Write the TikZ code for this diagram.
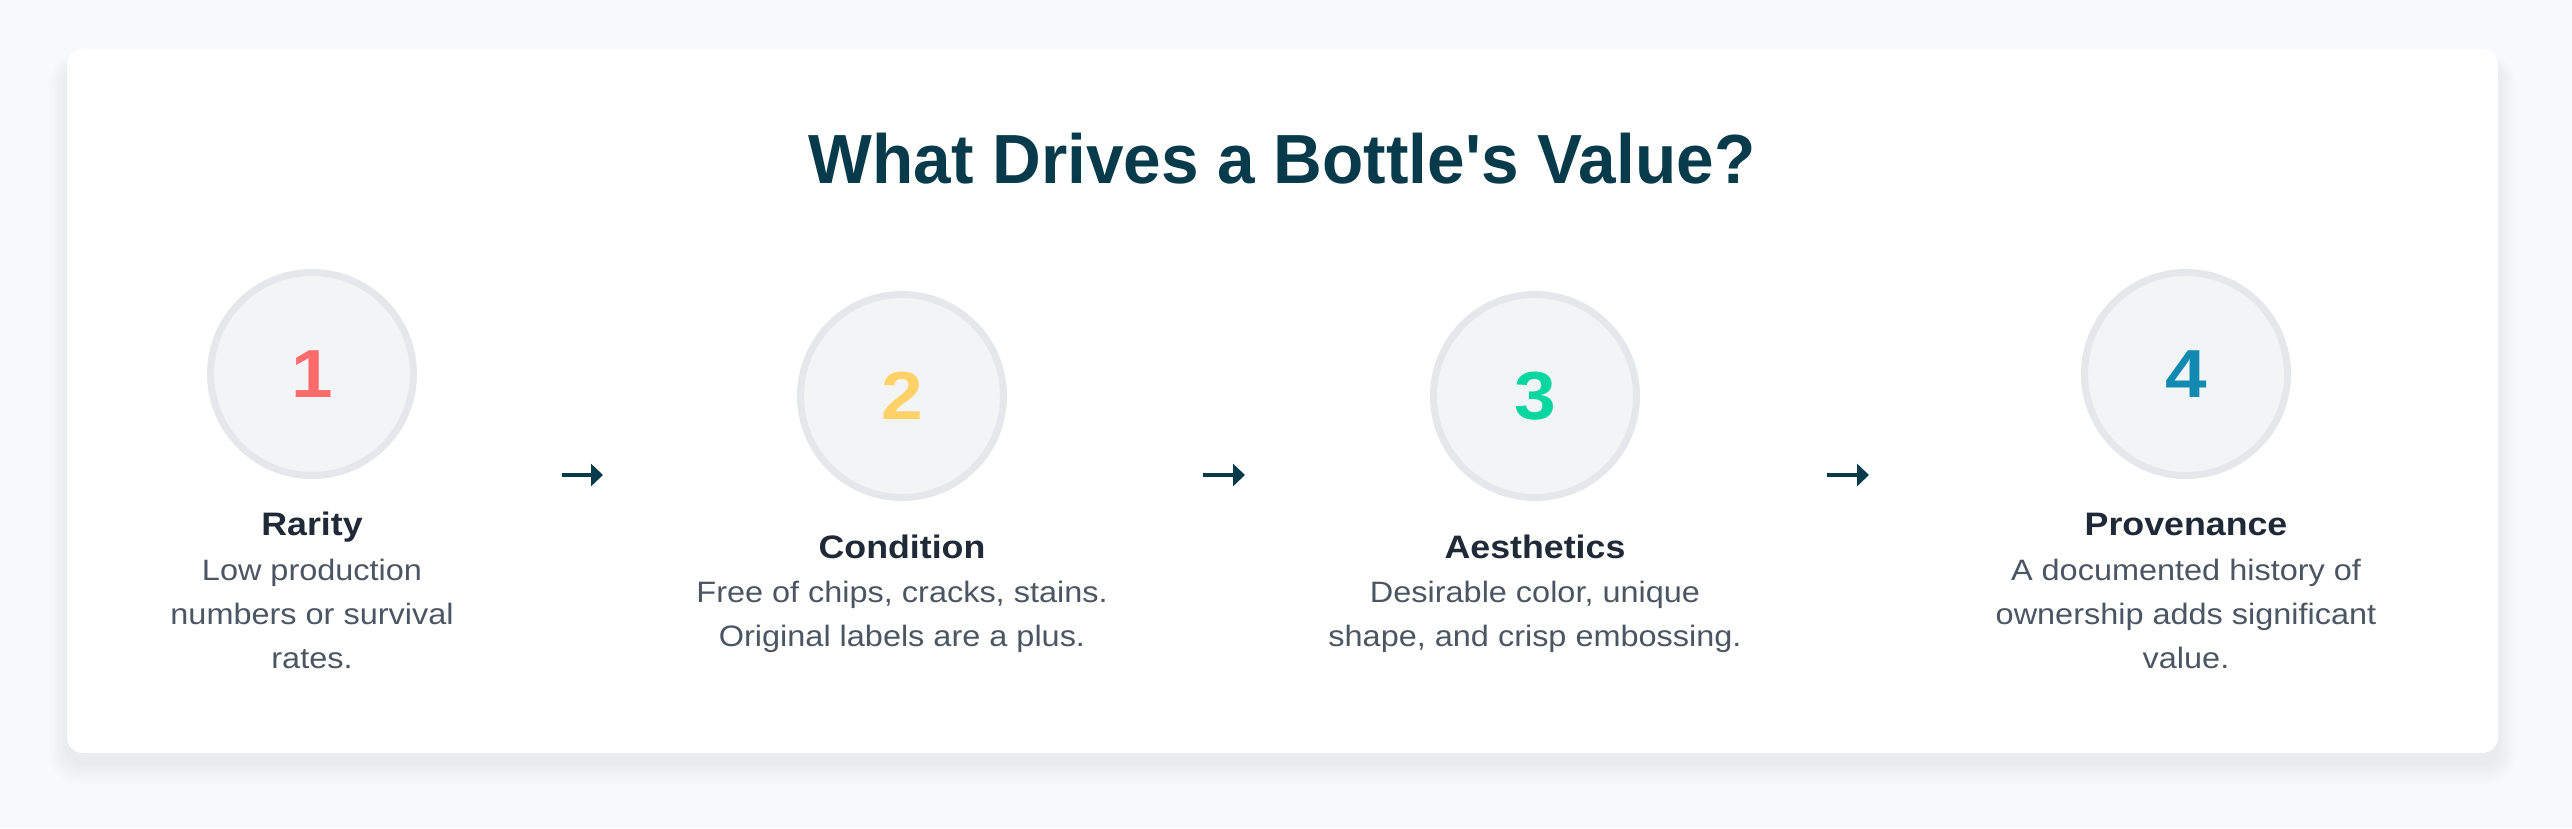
\documentclass[tikz,border=0pt]{standalone}
\usepackage{fontspec}
\setmainfont{Liberation Sans}
\newfontfamily\bodyfont[FakeStretch=1.1]{Liberation Sans}
\newfontfamily\titlefont[FakeStretch=0.97]{Liberation Sans}
\usetikzlibrary{arrows.meta}
\definecolor{pagebg}{HTML}{F8F9FA}
\definecolor{titlec}{HTML}{073B4C}
\definecolor{headc}{HTML}{1F2937}
\definecolor{descc}{HTML}{4B5563}
\definecolor{ringc}{HTML}{E5E7EB}
\definecolor{circfill}{HTML}{F3F4F6}
\definecolor{cone}{HTML}{FF6B6B}
\definecolor{ctwo}{HTML}{FFD166}
\definecolor{cthree}{HTML}{06D6A0}
\definecolor{cfour}{HTML}{118AB2}
\tikzset{
  stepcircle/.style={circle, draw=ringc, fill=circfill, line width=7pt,
    minimum size=203pt, inner sep=0pt,
    font=\bodyfont\bfseries\fontsize{68}{68}\selectfont},
  headtext/.style={anchor=base, inner sep=0pt, text=headc,
    font=\bodyfont\bfseries\fontsize{32.5}{40}\selectfont},
  desctext/.style={anchor=base, inner sep=0pt, text=descc, align=center,
    font=\bodyfont\fontsize{29.5}{44}\selectfont},
  titletext/.style={anchor=base, inner sep=0pt, text=titlec,
    font=\titlefont\bfseries\fontsize{69.6}{80}\selectfont},
  conn/.style={draw=titlec, line width=4.5pt, -{Triangle[length=12pt,width=22pt]}}
}
\begin{document}
\begin{tikzpicture}[x=1pt,y=-1pt]
\useasboundingbox (0,0) rectangle (2572,828);
\fill[pagebg] (0,0) rectangle (2572,828);
% card shadow
\foreach \i in {1,...,14}{
  \fill[black, opacity=0.005, rounded corners=16pt+\i pt]
    (67-\i*1.3, 49-\i*0.6+14) rectangle (2498+\i*1.3, 753+\i*1.6+10);
}
\fill[white, rounded corners=16pt] (67,49) rectangle (2498,753);

% title
\node[titletext] (title) at (1282,183) {What Drives a Bottle's Value?};

% step 1 (multi-line descriptions are anchored at the baseline of their last line)
\node[stepcircle, text=cone] (c1) at (312,374) {1};
\node[headtext] (h1) at (312,535) {Rarity};
\node[desctext] (d1) at (312,668) {Low production\\numbers or survival\\rates.};

% step 2
\node[stepcircle, text=ctwo] (c2) at (902,396) {2};
\node[headtext] (h2) at (902,558) {Condition};
\node[desctext] (d2) at (902,646) {Free of chips, cracks, stains.\\Original labels are a plus.};

% step 3
\node[stepcircle, text=cthree] (c3) at (1535,396) {3};
\node[headtext] (h3) at (1535,558) {Aesthetics};
\node[desctext] (d3) at (1535,646) {Desirable color, unique\\shape, and crisp embossing.};

% step 4
\node[stepcircle, text=cfour] (c4) at (2186,374) {4};
\node[headtext] (h4) at (2186,535) {Provenance};
\node[desctext] (d4) at (2186,668) {A documented history of\\ownership adds significant\\value.};

% arrows
\coordinate (a1s) at (562,475); \coordinate (a1e) at (603,475);
\coordinate (a2s) at (1203,475); \coordinate (a2e) at (1245,475);
\coordinate (a3s) at (1827,475); \coordinate (a3e) at (1869,475);
\draw[conn] (a1s) -- (a1e);
\draw[conn] (a2s) -- (a2e);
\draw[conn] (a3s) -- (a3e);
\end{tikzpicture}
\end{document}
